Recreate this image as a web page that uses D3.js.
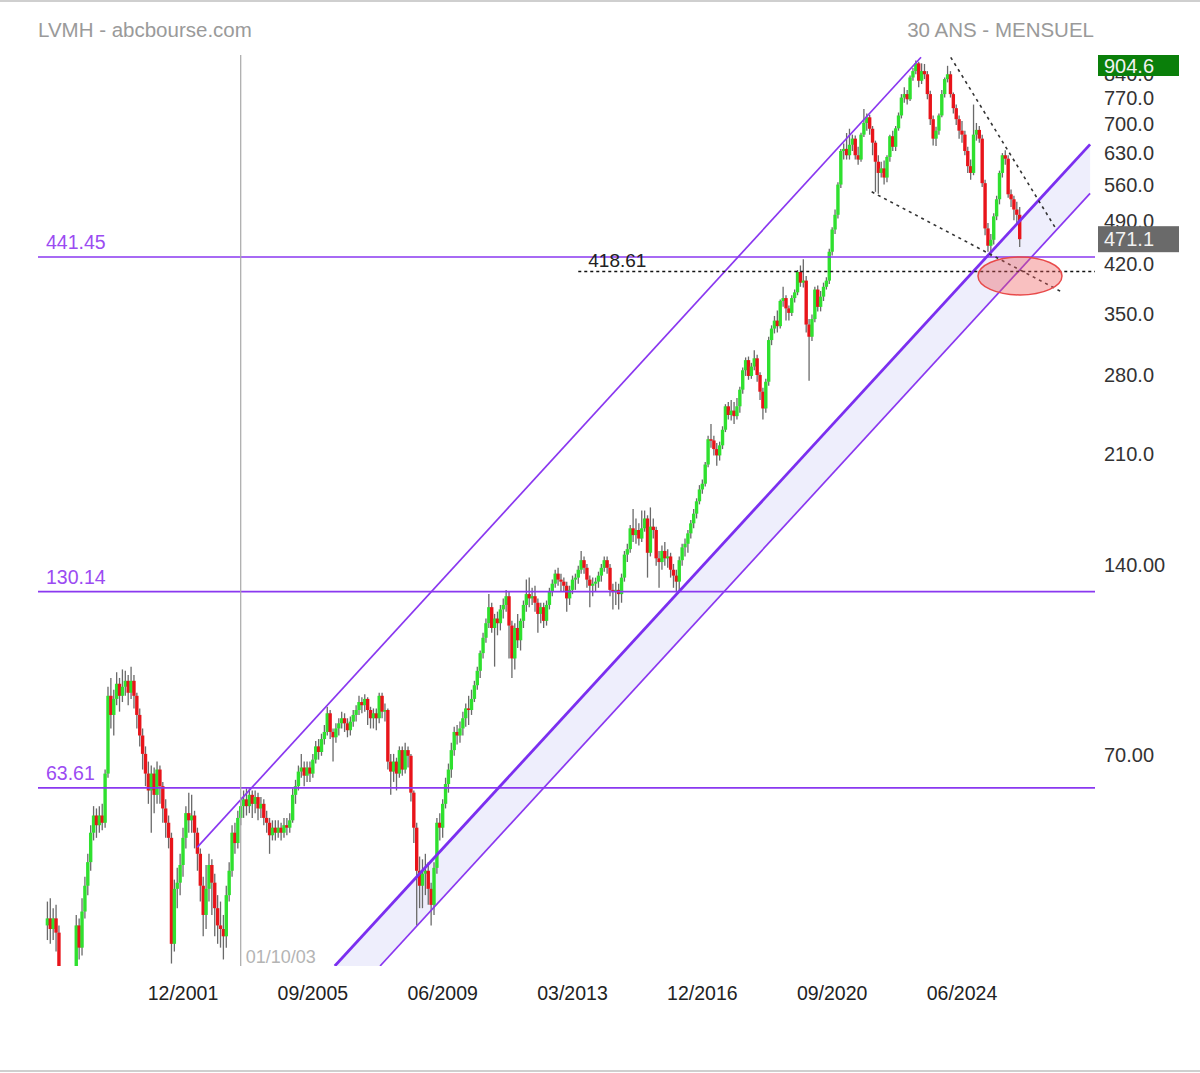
<!DOCTYPE html>
<html><head><meta charset="utf-8">
<script src="https://cdn.jsdelivr.net/npm/d3@7"></script>
<style>
html,body{margin:0;padding:0;background:#fff;}
svg{display:block;font-family:"Liberation Sans",Arial,Helvetica,sans-serif;}
</style>
</head><body><div id="chart"></div>
<script>
// ---------------- DATA (monthly candles, first month = 1998-01) ----------------
const startMonth = "1998-01";
const open = [
38.5,39.5,38,39.5,37.5,31,29,27,25,27,
30,38.5,35.5,40.5,44.5,48.5,54,57.5,55.5,57.5,
56,67,89,83,88,93,89,92,94,90,
94,89,83,77,72,67,63,67,62,68,
64,59,56,53,36,44,45,48,53,58,
56.5,57.5,54,50,44.5,40,44,48,45,41,
38.5,38,37,43,47,54,52,57,59.5,61,
59.5,62,60,61.5,59,60,57,56,53.5,55,
54,55,54,55.5,55,56.5,62,64,67.5,68.5,
66.5,68.5,67,70.5,74,72.5,76,78,83.5,78,
76.5,79,80.5,82,80.5,78.5,81,83,84.5,87,
86,88,84.5,82,83.5,82,89,84,84.5,70,
67.5,70,67,73,68,73,71.5,62.5,55,47,
44.5,46.5,47,44,41.5,47.5,56,55,60,64.5,
68,73,78,77,79,82,85,84.5,88,92.5,
97.5,104,110,116,123,114,118,116,122,124,
128,115,102,114,109,117,124,129,127,128,
125,120,123,117,124,130,134,139,136,135,
133,127,131,136,137,141,146,142,136,133,
134,135,138,142,146,142,131,130,131,129,
137,149,152,164,160,163,158,164,170,150,
165,163,147,145,151,147,148,141,138,135,
146,153,155,161,167,173,181,189,193,207,
227,226,219,214,222,235,256,248,252,247,
256,272,292,303,286,296,305,287,270,254,
280,326,340,350,343,376,380,366,360,380,
388,418,402,405,345,330,352,392,368,382,
396,405,450,488,515,575,650,655,640,665,
680,640,630,690,720,735,705,670,625,600,
610,590,636,686,660,706,740,790,800,785,
850,870,895,840,870,860,800,730,680,700,
740,800,845,860,800,760,730,700,690,650,
615,600,690,702,680,578,490,460,470,512,
545,600,640,632,555,545,525,515];
const high = [
42,42.5,41,41.5,38.5,32,30.5,29,30,32.5,
40,39.5,42.5,46,50,55.5,59.5,59,59.5,60,
68,92,95,91,97,95,98,97.5,96,99,
96,90,85,79,74,70,69,68.5,70,69,
65,61,57.5,54,45.5,47.5,50,55,59.5,62.5,
62,58.5,55,51,46,48,50,49,46.5,43,
42,40,44.5,48.5,55.5,56,58.5,61.5,63,63.5,
63.5,63,63,62.5,61.5,61,58.5,57,56.5,56.5,
56.5,56,57,57,58,63.5,65.5,69,72,70,
70,70,72,75.5,76,77.5,80,85.5,84.5,79,
80.5,82,84,83.5,82,82.5,84.5,86,89,88.5,
89.5,88.5,85.5,85,85,90,90,86.5,85,72,
72,71,74,74,75,74,72,63,56,49.5,
49,50,48.5,45,48.5,57,58,61,66,69.5,
75,79.5,80,81,84,86.5,89,91,94,99,
105,112,118,129,125,120,121,124,127,131,
130,117,116,120,118,126,136,137,132,133,
127,125,125,126,132,136,141,142,139,137,
135,133,138,139,143,151,148,144,138,137,
137,140,144,148,148,144,134,135,134,139,
151,155,166,176,170,167,175,175,172,177,
170,165,151,154,156,152,150,144,141,148,
155,158,163,169,176,183,192,196,209,230,
240,230,224,225,238,258,260,262,260,264,
275,295,306,307,300,314,309,290,274,283,
330,344,356,363,378,396,384,370,384,392,
421,428,438,412,352,358,396,398,390,402,
410,455,492,525,580,655,668,694,705,690,
688,660,695,758,745,742,712,675,640,625,
628,640,690,700,712,748,800,820,812,856,
880,904.6,900,895,893,870,810,740,710,745,
812,850,887,870,805,770,740,725,700,660,
630,770,720,712,690,585,500,480,518,552,
605,645,652,640,565,552,540,530];
const low = [
36.5,36,36.5,35,30,27,25,23,23,26,
29.5,34,34.5,39.5,43,47,52.5,53,54,54.5,
55,66,79,77,86,84,87,89,86,88,
85,79,74,68,64,60,54,58,60,60,
56,53,51,33.5,35,41,43,46,51,54,
54,51,47,42,37,38,42,40,37,36,
35.5,34,35.5,42,46,50,51,55.5,57,57.5,
58,57,58,56.5,57,55.5,54,50,52.5,52.5,
53,52.5,53,53.5,54,56,60,63,66,64,
65,65,66,69.5,70.5,71.5,74.5,77,76,70,
75,77,79,78,76.5,77,79.5,81,83,83.5,
84,80,79,79,78.5,80.5,82,81,68,62,
65,63,66,66.5,67,68.5,60.5,52,38.5,41,
41,43,41.5,38.5,40,46.5,52.5,53,59,62.5,
66,71.5,74.5,75,77,79.5,80,83,87,91,
95,102,108,114,112,99,111,113,118,121,
102,95,98,106,105,114,121,123,124,121,
112,116,114,115,122,128,132,133,130,130,
121,124,129,131,134,139,139,132,123,128,
130,132,135,140,139,128,122,124,122,125,
135,145,150,156,155,154,156,162,137,148,
158,143,132,141,143,142,137,132,130.14,131,
143,148,150,158,164,170,179,186,191,205,
220,214,206,210,219,233,244,243,240,244,
250,268,286,282,283,292,280,262,244,250,
276,320,334,335,340,368,350,350,356,374,
384,396,395,335,281,325,348,362,362,376,
392,400,444,480,508,568,630,630,630,650,
630,618,625,684,700,690,640,560,556,590,
575,580,625,650,650,700,732,775,770,780,
840,860,820,830,845,785,715,663,662,690,
735,790,835,790,745,715,680,670,640,600,
585,595,675,670,570,478,450,441.45,462,505,
535,590,618,548,530,505,498,458];
const close = [
39.5,38,39.5,37.5,31,29,27,25,27,30,
38.5,35.5,40.5,44.5,48.5,54,57.5,55.5,57.5,56,
67,89,83,88,93,89,92,94,90,94,
89,83,77,72,67,63,67,62,68,64,
59,56,53,36,44,45,48,53,58,56.5,
57.5,54,50,44.5,40,44,48,45,41,38.5,
38,37,43,47,54,52,57,59.5,61,59.5,
62,60,61.5,59,60,57,56,53.5,55,54,
55,54,55.5,55,56.5,62,64,67.5,68.5,66.5,
68.5,67,70.5,74,72.5,76,78,83.5,78,76.5,
79,80.5,82,80.5,78.5,81,83,84.5,87,86,
88,84.5,82,83.5,82,89,84,84.5,70,67.5,
70,67,73,68,73,71.5,62.5,55,47,44.5,
46.5,47,44,41.5,47.5,56,55,60,64.5,68,
73,78,77,79,82,85,84.5,88,92.5,97.5,
104,110,116,123,114,118,116,122,124,128,
115,102,114,109,117,124,129,127,128,125,
120,123,117,124,130,134,139,136,135,133,
127,131,136,137,141,146,142,136,133,134,
135,138,142,146,142,131,130,131,129,137,
149,152,164,160,163,158,164,170,150,165,
163,147,145,151,147,148,141,138,135,146,
153,155,161,167,173,181,189,193,207,227,
226,219,214,222,235,256,248,252,247,256,
272,292,303,286,296,305,287,270,254,280,
326,340,350,343,376,380,366,360,380,388,
418,402,405,345,330,352,392,368,382,396,
405,450,488,515,575,650,655,640,665,680,
640,630,690,720,735,705,670,625,600,610,
590,636,686,660,706,740,790,800,785,850,
870,895,840,870,860,800,730,680,700,740,
800,845,860,800,760,730,700,690,650,615,
600,690,702,680,578,490,460,470,512,545,
600,640,632,555,545,525,515,471.1];

// x-axis date labels
const tickMonths = ["2001-12","2005-09","2009-06","2013-03","2016-12","2020-09","2024-06"];
const tickLabels = ["12/2001","09/2005","06/2009","03/2013","12/2016","09/2020","06/2024"];
// y-axis price labels
const priceTicks = [70,140,210,280,350,420,490,560,630,700,770,840];
const priceTickLabels = ["70.00","140.00","210.0","280.0","350.0","420.0","490.0","560.0","630.0","700.0","770.0","840.0"];
// horizontal support levels
const levels = [441.45,130.14,63.61];
const levelLabels = ["441.45","130.14","63.61"];
// dotted resistance level
const dottedLevel = [418.61];
const dottedLevelStart = ["2013-05"];
// vertical cursor
const cursorMonth = ["2003-08"];
const cursorLabel = ["01/10/03"];
// trend lines, [month index (from start), price]
const upperChannel = [[51.9, 51.2],[302.8, 915]];
const bandTop = [[99.6, 33.2],[361.4, 666]];
const bandBottom = [[115.3, 33.2],[361.4, 557]];
const dottedTrendA = [[313.1, 915],[349.6, 489]];
const dottedTrendB = [[285.7, 560],[352.1, 387.5]];
const targetZone = [[337.1, 412]];
const lastPrice = [471.1];
const periodHigh = [904.6];
const titleLeft = "LVMH - abcbourse.com";
const titleRight = "30 ANS - MENSUEL";

// ---------------- LAYOUT ----------------
const W = 1200, H = 1073;
const P = {left:38, right:1095, top:55, bottom:966};
const purple = "#8a38f0";

const monthIdx = s => { const [yy,mm] = s.split("-").map(Number); const [y0,m0] = startMonth.split("-").map(Number); return (yy-y0)*12 + (mm-m0); };

const svg = d3.select("#chart").append("svg").attr("width",W).attr("height",H);
svg.append("rect").attr("width",W).attr("height",H).attr("fill","#fff");
svg.append("line").attr("x1",0).attr("x2",W).attr("y1",1).attr("y2",1).attr("stroke","#cfcfcf").attr("stroke-width",2);
svg.append("line").attr("x1",0).attr("x2",W).attr("y1",1071).attr("y2",1071).attr("stroke","#cfcfcf").attr("stroke-width",2);

const x = d3.scaleLinear().domain([-3.26, 363.1]).range([P.left, P.right]);
const y = d3.scaleLog().domain([33.2, 922.7]).range([P.bottom, P.top]);

svg.append("clipPath").attr("id","clip").append("rect")
  .attr("x",P.left).attr("y",P.top-8).attr("width",P.right-P.left).attr("height",P.bottom-P.top+8);
const g = svg.append("g").attr("clip-path","url(#clip)");

// titles
svg.append("text").attr("x",38).attr("y",37).attr("font-size",20.5).attr("fill","#9a9a9a").text(titleLeft);
svg.append("text").attr("x",1094).attr("y",37).attr("text-anchor","end").attr("font-size",20.5).attr("fill","#9a9a9a").text(titleRight);

// band fill
const line = d3.line().x(d=>x(d[0])).y(d=>y(d[1]));
const bandPoly = [bandTop[0], bandTop[1], bandBottom[1], bandBottom[0]];
g.append("path").attr("d", line(bandPoly)+"Z").attr("fill","#eeeefc").attr("stroke","none");

// candles
const candles = d3.range(close.length).map(i=>({i,o:open[i],h:high[i],l:low[i],c:close[i]}));
const bw = 3.4;
g.append("g").selectAll("line").data(candles).join("line")
  .attr("x1",d=>x(d.i)).attr("x2",d=>x(d.i))
  .attr("y1",d=>y(d.h)).attr("y2",d=>y(d.l))
  .attr("stroke","#6a6a6a").attr("stroke-width",1.3);
g.append("g").selectAll("rect").data(candles).join("rect")
  .attr("x",d=>x(d.i)-bw/2).attr("width",bw)
  .attr("y",d=>y(Math.max(d.o,d.c)))
  .attr("height",d=>Math.max(1.5, Math.abs(y(d.o)-y(d.c))))
  .attr("fill",d=>d.c>=d.o ? "#2fe02f" : "#e8141a");

// horizontal levels
levels.forEach((v,k)=>{
  g.append("line").attr("x1",P.left).attr("x2",P.right).attr("y1",y(v)).attr("y2",y(v))
    .attr("stroke",purple).attr("stroke-width",1.7);
  svg.append("text").attr("x",46).attr("y",y(v)-8).attr("font-size",19.5).attr("fill","#9b4bf2").text(levelLabels[k]);
});

// upper channel line
g.append("path").attr("d",line(upperChannel)).attr("stroke",purple).attr("stroke-width",1.7).attr("fill","none");
// band lines
g.append("path").attr("d",line(bandTop)).attr("stroke","#7b2ff0").attr("stroke-width",2.8).attr("fill","none");
g.append("path").attr("d",line(bandBottom)).attr("stroke",purple).attr("stroke-width",1.7).attr("fill","none");

// vertical cursor
const cx = x(monthIdx(cursorMonth[0]));
svg.append("line").attr("x1",cx).attr("x2",cx).attr("y1",P.top).attr("y2",P.bottom).attr("stroke","#a8a8a8").attr("stroke-width",1.2);
svg.append("text").attr("x",cx+5).attr("y",963).attr("font-size",18).attr("fill","#b4b4b4").text(cursorLabel[0]);

// dotted resistance
dottedLevel.forEach((v,k)=>{
  const x0 = x(monthIdx(dottedLevelStart[k]));
  g.append("line").attr("x1",x0).attr("x2",P.right).attr("y1",y(v)).attr("y2",y(v))
    .attr("stroke","#111").attr("stroke-width",1.4).attr("stroke-dasharray","3,3");
  svg.append("text").attr("x",x0+10).attr("y",y(v)-5).attr("font-size",19).attr("fill","#222").text(v.toFixed(2));
});
// dotted trend lines
[dottedTrendA, dottedTrendB].forEach(t=>{
  g.append("path").attr("d",line(t)).attr("stroke","#333").attr("stroke-width",1.6)
    .attr("stroke-dasharray","3,4").attr("fill","none");
});

// target ellipse
g.append("ellipse").attr("cx",x(targetZone[0][0])).attr("cy",y(targetZone[0][1]))
  .attr("rx",42).attr("ry",19).attr("fill","rgba(240,90,90,0.38)").attr("stroke","#e84a4a").attr("stroke-width",1.5);

// right axis labels
svg.append("g").selectAll("text").data(priceTicks).join("text")
  .attr("x",1104).attr("y",d=>y(d)).attr("font-size",20).attr("fill","#333")
  .text((d,k)=>priceTickLabels[k]);

// price boxes
function box(v, fill, h){
  const yc = Math.max(y(v), P.top+h/2);
  svg.append("rect").attr("x",1098).attr("y",yc-h/2).attr("width",81).attr("height",h).attr("fill",fill);
  svg.append("text").attr("x",1104).attr("y",yc+7).attr("font-size",20).attr("fill","#f2f2f2").text(v.toFixed(1));
}
box(periodHigh[0], "#0a7f0a", 21);
box(lastPrice[0], "#6a6a6a", 26);

// x-axis labels
svg.append("g").selectAll("text").data(tickMonths).join("text")
  .attr("x",d=>x(monthIdx(d))).attr("y",1000).attr("text-anchor","middle")
  .attr("font-size",19.5).attr("fill","#222").text((d,k)=>tickLabels[k]);
</script>
</body></html>
